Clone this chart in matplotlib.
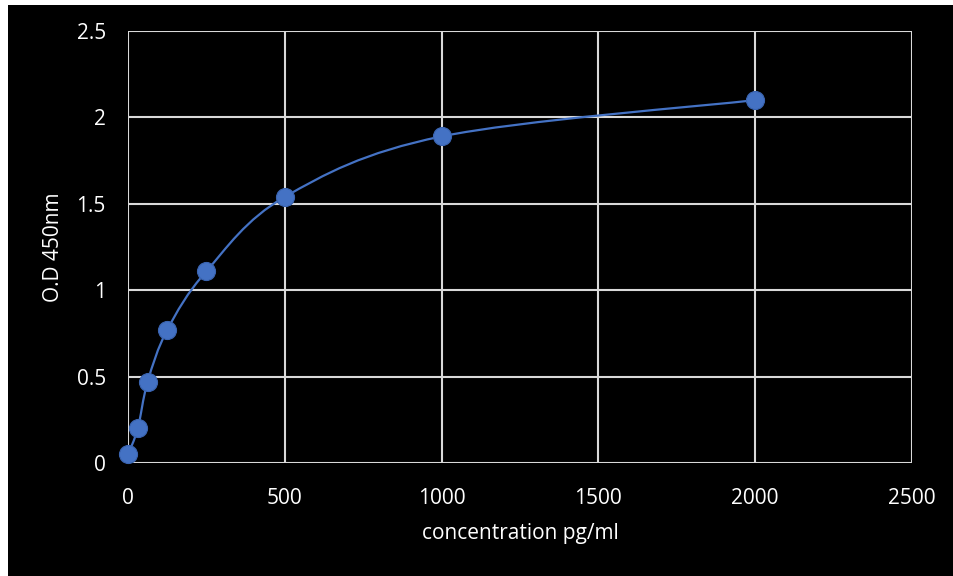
import numpy as np
import matplotlib.pyplot as plt
from matplotlib.path import Path
from matplotlib.patches import PathPatch, Rectangle

# standard curve values
conc = [0, 31.25, 62.5, 125, 250, 500, 1000, 2000]
od = [0.05, 0.20, 0.47, 0.77, 1.11, 1.54, 1.89, 2.10]
x_ticks = [0, 500, 1000, 1500, 2000, 2500]
y_ticks = [0, 0.5, 1, 1.5, 2, 2.5]
y_tick_labels = ["0", "0.5", "1", "1.5", "2", "2.5"]

BLUE = "#4472C4"
GRID = "#d9d9d9"
FS = 15


def smooth_path(xs, ys, tension=1 / 6.0):
    # Catmull-Rom style bezier segments, like a spreadsheet "smoothed line"
    pts = np.column_stack([xs, ys]).astype(float)
    verts = [pts[0]]
    codes = [Path.MOVETO]
    n = len(pts)
    for i in range(n - 1):
        p0 = pts[i - 1] if i > 0 else pts[i]
        p1 = pts[i]
        p2 = pts[i + 1]
        p3 = pts[i + 2] if i + 2 < n else pts[i + 1]
        c1 = p1 + (p2 - p0) * tension
        c2 = p2 - (p3 - p1) * tension
        verts += [c1, c2, p2]
        codes += [Path.CURVE4] * 3
    return Path(verts, codes)


fig = plt.figure(figsize=(9.54, 5.76), dpi=100, facecolor="white")
fig.patches.append(Rectangle((8 / 954, 0), 1, 1 - 5 / 576, transform=fig.transFigure,
                             facecolor="black", edgecolor="none", zorder=-10))

ax = fig.add_axes([128 / 954, 113 / 576, 784 / 954, 432 / 576])
ax.set_facecolor("black")
ax.set_xlim(0, 2500)
ax.set_ylim(0, 2.5)
ax.set_xticks(x_ticks)
ax.set_yticks(y_ticks)
ax.set_yticklabels(y_tick_labels)
for s in ax.spines.values():
    s.set_visible(False)
ax.grid(True, color=GRID, linewidth=1.5)
ax.set_axisbelow(True)
ax.tick_params(length=0, colors="white", labelsize=FS)
ax.tick_params(axis="x", pad=18)
ax.tick_params(axis="y", pad=16)
for lab in ax.get_xticklabels() + ax.get_yticklabels():
    lab.set_fontfamily("Open Sans")

ax.add_patch(PathPatch(smooth_path(conc, od), facecolor="none", edgecolor=BLUE,
                       linewidth=1.6, zorder=3))
ax.plot(conc, od, linestyle="none", marker="o", markersize=13, color=BLUE,
        markeredgecolor="#3a64b0", markeredgewidth=0.8, zorder=4, clip_on=False)

ax.set_xlabel("concentration pg/ml", color="white", fontsize=FS, family="Open Sans", labelpad=10)
ax.set_ylabel("O.D 450nm", color="white", fontsize=FS, family="Open Sans", labelpad=9)

fig.savefig("out.png", dpi=100, facecolor=fig.get_facecolor())
